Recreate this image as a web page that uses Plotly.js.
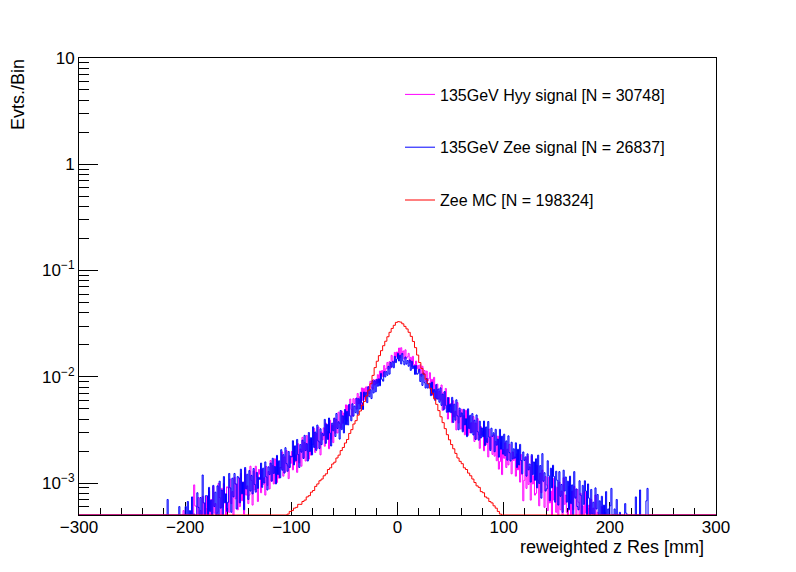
<!DOCTYPE html>
<html><head><meta charset="utf-8">
<script src="https://cdn.plot.ly/plotly-3.0.1.min.js"></script>
<style>html,body{margin:0;padding:0;background:#fff}#chart{width:796px;height:572px}</style>
</head><body><div id="chart"></div>
<script>
// Values are in units of 1e-4 events per bin; 0 means empty / below the plotted range
const UNIT = 1e-4;

const hyyName = '135GeV Hyy signal [N = 30748]';
const hyyStart = -210;
const hyyBin = 1; // mm
const hyyVals = [
  0,0,0,0,0,0,0,0,5.5,0,
  0,0,0,0,0,0,0,0,9.6,6.1,
  6.0,0,7.3,0,5.5,0,7.5,0,6.5,0,
  7.5,0,8.4,0,7.0,0,9.3,5.2,6.4,0,
  5.3,9.9,7.3,0,8.9,5.9,9.9,7.9,0,9.2,
  9.0,5.3,10.9,6.4,8.3,0,11.3,7.1,9.8,5.6,
  11.1,6.0,12.3,6.8,10.2,5.1,13.6,7.7,9.4,6.4,
  7.7,14.4,10.6,6.2,13.0,8.6,14.4,11.5,6.7,13.4,
  12.1,8.1,13.4,9.7,11.2,7.7,14.3,9.5,12.8,8.8,
  16.3,10.4,14.6,9.8,16.9,12.0,10.1,15.6,11.1,14.0,
  13.8,19.6,11.6,17.6,12.7,20.2,14.5,11.0,18.1,15.3,
  19.8,13.3,22.0,15.8,18.4,12.6,23.4,15.5,20.9,14.4,
  26.9,17.2,24.1,16.1,28.0,19.8,16.8,25.8,18.3,23.2,
  23.0,32.6,19.4,29.3,21.2,33.7,24.2,18.4,30.1,25.5,
  33.0,22.2,36.6,26.4,30.6,21.0,39.0,25.8,34.8,24.0,
  40.8,29.4,39.6,29.6,46.4,36.3,32.8,47.6,36.5,45.6,
  39.6,54.4,38.2,53.8,42.9,61.7,49.4,42.6,62.2,56.0,
  62.1,49.6,69.6,55.8,64.8,53.3,78.5,59.8,77.8,61.1,
  80.3,69.0,80.9,69.5,90.7,79.7,76.5,94.0,83.7,93.7,
  86.5,104.6,88.1,113.2,101.9,114.5,99.9,127.7,111.2,120.0,
  136.4,117.8,138.6,120.6,159.0,141.1,136.8,169.6,152.3,171.0,
  158.1,186.4,151.3,187.6,162.0,174.9,146.7,179.2,149.2,154.0,
  166.1,136.2,152.3,125.0,155.7,130.6,119.7,140.4,119.4,127.7,
  111.3,129.8,101.2,125.4,104.6,114.5,89.6,113.0,91.2,95.9,
  109.2,74.3,94.6,66.8,98.8,73.0,62.3,85.3,61.8,73.1,
  60.3,83.6,48.3,71.3,50.1,77.6,54.3,40.0,63.7,52.5,
  56.1,37.0,59.5,41.9,47.3,31.6,57.2,36.8,48.3,32.3,
  49.4,31.2,43.0,28.4,48.4,33.7,28.1,42.5,29.6,36.9,
  30.2,42.2,24.6,36.6,25.9,40.4,28.5,21.2,34.0,28.2,
  30.5,20.1,32.6,23.1,26.2,17.6,32.1,20.8,27.5,18.6,
  28.5,17.9,24.6,16.2,27.6,13.5,15.9,24.0,12.0,20.7,
  17.1,23.9,14.0,20.8,14.8,23.1,16.3,12.2,19.6,16.3,
  17.6,11.6,18.8,13.3,15.1,10.2,18.5,12.0,6.8,10.6,
  16.9,8.9,18.0,9.7,14.2,6.9,17.9,9.8,11.7,7.7,
  8.0,14.7,10.6,6.1,12.4,8.1,13.2,10.3,5.9,11.5,
  9.6,5.5,11.3,6.5,8.4,0,11.1,6.9,9.4,5.3,
  9.1,0,10.2,5.6,8.4,0,11.2,6.3,7.7,5.3,
  0,9.3,6.8,0,8.4,5.6,9.3,7.4,0,8.7,
  6.6,0,8.0,0,6.1,0,8.3,5.2,7.2,0,
  6.2,0,7.0,0,5.8,0,7.7,0,5.3,0,
  0,0,6.0,0,0,5.3,0,0,0,0
];

const zeeSigName = '135GeV Zee signal [N = 26837]';
const zeeSigStart = -220;
const zeeSigBin = 1; // mm
const zeeSigVals = [
  0,0,0,7,0,0,0,0,0,0,
  0,0,0,0,6,0,0,0,0,0,
  6.0,0,6.7,0,5.5,0,7.4,0,5.1,0,
  0,8.1,5.9,0,7.3,0,11.9,6.5,0,7.6,
  7.6,0,9.1,5.4,6.9,0,9.5,6.0,8.2,0,
  9.4,5.0,10.4,5.8,8.6,0,11.5,6.5,7.9,5.4,
  6.6,12.3,9.0,5.3,11.1,7.4,12.3,9.8,5.7,11.5,
  11.2,6.5,13.5,7.9,10.2,5.6,14.0,8.8,12.1,7.0,
  13.1,8.4,11.8,7.9,13.7,9.7,8.2,12.6,8.9,11.3,
  10.8,15.4,9.1,13.8,10.0,15.8,11.4,8.6,14.2,12.0,
  15.4,10.4,17.1,12.3,14.3,9.8,18.2,12.0,16.2,11.2,
  20.6,13.2,18.5,12.4,21.5,15.2,12.9,19.8,14.0,17.8,
  17.6,25.0,14.8,22.4,16.2,25.7,18.5,14.0,23.0,19.5,
  25.3,17.0,28.1,20.2,23.5,16.1,29.9,19.8,26.7,18.4,
  33.8,21.6,30.2,20.3,35.1,24.8,21.1,32.4,23.0,29.2,
  27.9,39.7,23.6,35.7,25.7,40.9,29.5,22.3,36.6,31.0,
  40.7,27.4,45.1,32.6,37.7,25.9,48.1,31.8,42.9,29.6,
  49.2,35.3,47.3,35.2,54.9,42.8,38.5,55.7,42.6,53.0,
  45.9,63.0,44.3,62.2,49.6,71.4,57.0,49.2,71.8,64.5,
  71.3,57.1,80.5,64.8,75.5,62.3,92.0,70.4,91.8,72.2,
  94.6,81.4,95.6,82.3,107.5,94.6,90.9,111.8,99.6,111.8,
  103.2,125.4,105.9,136.5,123.2,138.9,121.5,155.7,135.9,147.0,
  166.1,140.8,159.6,132.0,165.8,140.2,129.6,153.4,131.6,142.1,
  125.6,143.9,114.8,139.9,119.3,127.2,105.3,127.7,105.5,108.0,
  117.6,90.2,106.0,82.9,108.3,87.9,78.3,96.3,78.2,85.8,
  86.9,66.4,89.1,68.4,76.0,59.9,84.4,61.6,76.7,57.6,
  78.6,53.8,68.8,48.8,72.6,53.9,46.3,63.8,46.5,55.1,
  45.9,64.0,37.2,55.2,39.0,60.7,42.8,31.7,50.7,42.0,
  45.7,30.3,49.4,35.2,40.3,27.3,49.9,32.5,43.4,29.6,
  45.0,28.3,39.0,25.7,43.7,30.4,25.3,38.2,26.5,33.0,
  27.2,38.3,22.5,33.7,24.1,37.9,27.0,20.2,32.8,27.5,
  29.7,19.7,32.0,22.7,25.9,17.5,32.0,20.8,27.6,18.7,
  28.8,18.1,24.9,16.4,27.8,19.3,16.1,24.2,16.8,21.0,
  17.1,23.9,14.0,20.8,14.8,23.1,16.3,12.2,19.6,16.3,
  17.6,11.6,18.8,13.3,15.1,10.2,18.5,12.0,15.8,10.6,
  16.9,9.0,18.3,9.9,14.6,7.2,18.9,10.4,12.5,8.4,
  8.8,16.2,11.7,6.8,13.8,9.0,14.7,11.5,6.6,12.9,
  10.6,6.2,12.8,7.5,9.7,5.3,13.2,8.4,11.4,6.6,
  10.4,5.6,11.6,6.4,9.6,0,12.8,7.2,8.8,6.0,
  5.6,10.5,7.7,0,9.5,6.3,10.5,8.4,0,9.8,
  7.2,0,8.7,5.1,6.6,0,9.0,5.7,7.8,0,
  6.8,0,7.5,0,6.2,0,8.3,0,5.7,0,
  6.1,8.9,0,0,5.7,0,7.0,0,0,5.3,
  0,0,0,0,6.4,5.2,0,0,0,0,
  0,0,0,0,7.4,0,0,0,8.6,0,
  0,0,0,0,6.8,8.9,0,0,0,0
];

const zeeMCName = 'Zee MC [N = 198324]';
const zeeMCStart = -104;
const zeeMCBin = 2; // mm
const zeeMCVals = [
  5.1,5.4,
  5.5,5.8,5.9,6.3,6.3,  6.7,6.9,7.4,7.6,8.2,  8.5,9.3,9.8,10.5,10.9,  11.7,12.2,13.4,13.9,15.1,
  15.7,17.2,18.3,20.2,21.6,  23.8,25.7,29.3,31.8,35.9,  38.6,43.5,47.6,53.8,58.6,  66,75,86,103,122,
  140,158,176,196,216,  238,262,285,305,325,  330,327,315,298,282,  262,240,215,188,160,
  136,120,106,95,86,  78,70,62,55,48,  42,37,32.5,28.5,25.5,  23,21,19,17.2,16,
  15.2,13.9,13.4,12.4,11.7,  10.9,10.1,9.4,9.1,8.3,  8.1,7.4,7.2,6.7,6.5,
  6.1,5.8,5.4,5.1
];

const xTickVals = [-300, -200, -100, 0, 100, 200, 300];
const xTickText = ['\u2212300', '\u2212200', '\u2212100', '0', '100', '200', '300'];
const yTickVals = [1e-3, 1e-2, 1e-1, 1, 10];
const yTickText = ['10<sup>\u22123</sup>', '10<sup>\u22122</sup>', '10<sup>\u22121</sup>', '1', '10'];
const xTitle = 'reweighted z Res [mm]';
const yTitle = 'Evts./Bin';

const X_MIN = -300, X_MAX = 300, Y_MIN = 5e-4, Y_MAX = 10;

function steps(start, width, vals) {
  const xs = [X_MIN], ys = [Y_MIN];
  vals.forEach((v, i) => {
    const val = v * UNIT;
    xs.push(start + i * width);
    ys.push(val > Y_MIN ? val : Y_MIN);
  });
  xs.push(start + vals.length * width); ys.push(Y_MIN);
  xs.push(X_MAX); ys.push(Y_MIN);
  return {xs, ys};
}

function trace(name, start, width, vals, color, group) {
  const s = steps(start, width, vals);
  return {type: 'scatter', mode: 'lines', x: s.xs, y: s.ys, name: name, legendgroup: group,
    line: {shape: 'hv', color: color, width: 1}, hoverinfo: 'skip'};
}

const data = [
  trace(hyyName, hyyStart, hyyBin, hyyVals, '#ff00ff', 'a'),
  trace(zeeSigName, zeeSigStart, zeeSigBin, zeeSigVals, '#0000ff', 'b'),
  trace(zeeMCName, zeeMCStart, zeeMCBin, zeeMCVals, '#ff0000', 'c')
];

const xMinor = [];
for (let v = X_MIN + 20; v < X_MAX; v += 20) if (v % 100 !== 0) xMinor.push(v);
const yMinor = [];
for (let k = -4; k <= 0; k++) for (let m = 2; m <= 9; m++) {
  const v = m * Math.pow(10, k);
  if (v > Y_MIN && v < Y_MAX) yMinor.push(v);
}

const FONT = 'Liberation Sans, Arial, Helvetica, sans-serif';
const layout = {
  width: 796, height: 572,
  margin: {l: 79, r: 80, t: 58, b: 57},
  paper_bgcolor: '#fff', plot_bgcolor: '#fff',
  showlegend: true,
  font: {family: FONT, color: '#000'},
  xaxis: {
    range: [X_MIN, X_MAX], tickmode: 'array', tickvals: xTickVals, ticktext: xTickText,
    ticks: 'inside', ticklen: 13, tickcolor: '#000', tickwidth: 1, ticklabelstandoff: -3,
    showline: true, linecolor: '#000', linewidth: 1, mirror: true,
    showgrid: false, zeroline: false, layer: 'below traces',
    tickfont: {family: FONT, size: 17, color: '#000'},
    minor: {tickmode: 'array', tickvals: xMinor, ticks: 'inside', ticklen: 7, tickcolor: '#000', showgrid: false}
  },
  yaxis: {
    type: 'log', range: [Math.log10(Y_MIN), Math.log10(Y_MAX)],
    tickmode: 'array', tickvals: yTickVals, ticktext: yTickText,
    ticks: 'inside', ticklen: 19, tickcolor: '#000', tickwidth: 1,
    showline: true, linecolor: '#000', linewidth: 1, mirror: true,
    showgrid: false, zeroline: false, layer: 'below traces',
    tickfont: {family: FONT, size: 17, color: '#000'},
    minor: {tickmode: 'array', tickvals: yMinor, ticks: 'inside', ticklen: 10, tickcolor: '#000', showgrid: false}
  },
  legend: {
    x: (400 - 79) / 637, y: (515 - 77.5) / 457, xanchor: 'left', yanchor: 'top',
    font: {family: FONT, size: 16, color: '#000'},
    bgcolor: 'rgba(0,0,0,0)', borderwidth: 0,
    traceorder: 'grouped', tracegroupgap: 29, itemwidth: 30
  },
  annotations: [
    {text: xTitle, xref: 'paper', yref: 'paper', x: (706 - 79) / 637, y: (515 - 547) / 457,
     xanchor: 'right', yanchor: 'middle', showarrow: false, font: {family: FONT, size: 18, color: '#000'}},
    {text: yTitle, xref: 'paper', yref: 'paper', x: (18 - 79) / 637, y: (515 - 95) / 457,
     xanchor: 'center', yanchor: 'middle', textangle: -90, showarrow: false, font: {family: FONT, size: 18, color: '#000'}}
  ]
};

Plotly.newPlot('chart', data, layout, {displayModeBar: false, staticPlot: true});
</script>
</body></html>
